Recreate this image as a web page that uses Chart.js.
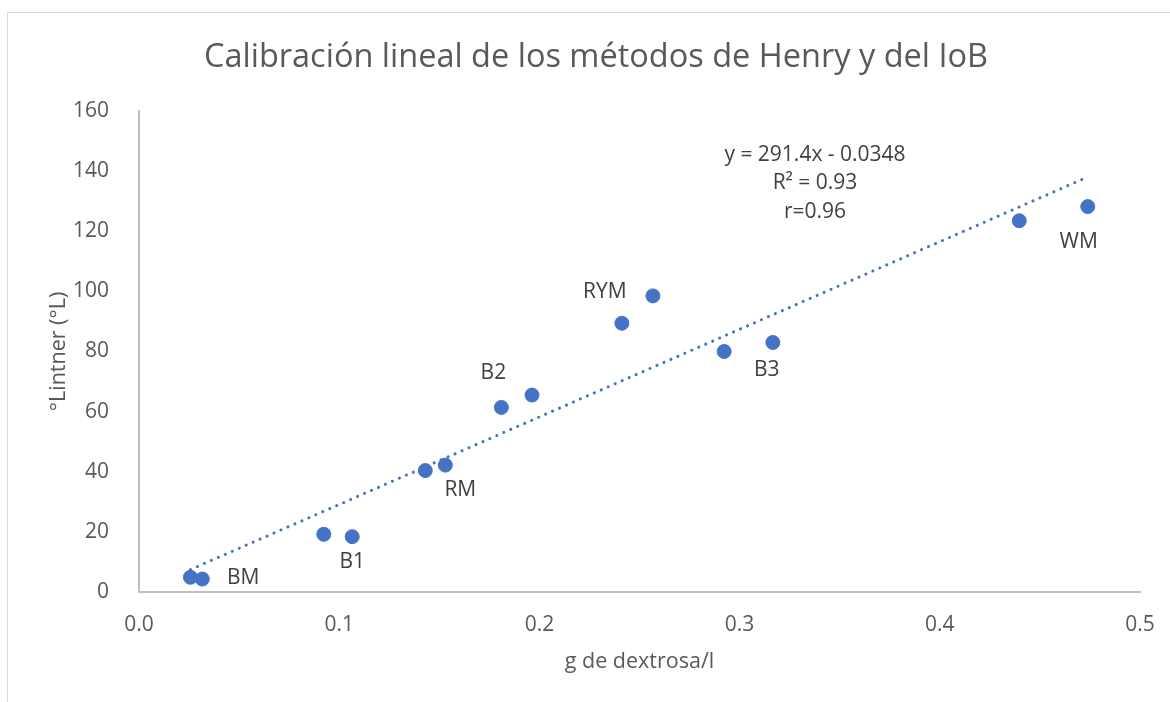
<!DOCTYPE html>
<html>
<head>
<meta charset="utf-8">
<script src="https://cdn.jsdelivr.net/npm/chart.js@4.4.1/dist/chart.umd.min.js"></script>
<style>
    html, body { margin: 0; padding: 0; background: #fff; }
    #wrap { width: 1170px; height: 702px; position: relative; }
</style>
</head>
<body>
<div id="wrap"><canvas id="calChart" width="1170" height="702"></canvas></div>
<script>
const xValues = [0.0257, 0.0316, 0.0923, 0.1065, 0.1430, 0.1530, 0.1810, 0.1963, 0.2412, 0.2567, 0.2923, 0.3166, 0.4397, 0.4739];
const yValues = [4.9, 4.3, 19.2, 18.4, 40.4, 42.2, 61.4, 65.5, 89.4, 98.5, 80.0, 83.0, 123.5, 128.2];
const sampleLabels = ["", "BM", "", "B1", "", "RM", "B2", "", "", "RYM", "", "B3", "", "WM"];
const slope = 291.4;
const intercept = -0.0348;
const equationLines = ["y = 291.4x - 0.0348", "R² = 0.93", "r=0.96"];
const xTicks = [0, 0.1, 0.2, 0.3, 0.4, 0.5];
const yTicks = [0, 20, 40, 60, 80, 100, 120, 140, 160];
const chartTitle = "Calibración lineal de los métodos de Henry y del IoB";

const FONT = "'Open Sans', 'Noto Sans', sans-serif";
const BLUE = "#4472C4";

const points = xValues.map((x, i) => ({ x: x, y: yValues[i] }));
const xMin = Math.min(...xValues);
const xMax = Math.max(...xValues);
const trend = [
    { x: xMin, y: slope * xMin + intercept },
    { x: xMax, y: slope * xMax + intercept },
];

// where each data label sits relative to its point (px)
const labelOffsets = {
    1: [41, -1],
    3: [0, 25],
    5: [15, 25],
    6: [-8, -34],
    9: [-48, -4],
    11: [-6, 28],
    13: [-9, 35],
};

const extras = {
    id: "extras",
    beforeDraw(chart) {
        const ctx = chart.ctx;
        ctx.save();
        ctx.strokeStyle = "#d9d9d9";
        ctx.lineWidth = 1;
        ctx.strokeRect(7.5, 12.5, 1300, 1000);
        ctx.fillStyle = "#595959";
        ctx.font = "32.5px " + FONT;
        ctx.textAlign = "center";
        ctx.textBaseline = "middle";
        ctx.fillText(chartTitle, 596, 58);
        ctx.restore();
    },
    afterDatasetsDraw(chart) {
        const ctx = chart.ctx;
        const xs = chart.scales.x;
        const ys = chart.scales.y;
        ctx.save();
        ctx.fillStyle = "#404040";
        ctx.font = "21px " + FONT;
        ctx.textBaseline = "middle";
        ctx.textAlign = "center";
        sampleLabels.forEach((lbl, i) => {
            if (!lbl) return;
            const off = labelOffsets[i];
            ctx.fillText(lbl, xs.getPixelForValue(xValues[i]) + off[0], ys.getPixelForValue(yValues[i]) + off[1]);
        });
        equationLines.forEach((t, i) => {
            ctx.fillText(t, 815, 155 + i * 28.5);
        });
        ctx.restore();
    },
};

new Chart(document.getElementById("calChart"), {
    type: "scatter",
    data: {
        datasets: [
            {
                data: points,
                backgroundColor: BLUE,
                borderColor: BLUE,
                pointRadius: 7,
                pointHoverRadius: 7,
                order: 1,
            },
            {
                type: "line",
                data: trend,
                borderColor: BLUE,
                borderWidth: 3,
                borderDash: [0.1, 7.5],
                borderCapStyle: "round",
                pointRadius: 0,
                fill: false,
                order: 2,
            },
        ],
    },
    options: {
        responsive: false,
        animation: false,
        layout: { padding: { left: 0, right: 30, top: 111, bottom: 0 } },
        plugins: {
            legend: { display: false },
            tooltip: { enabled: false },
            title: { display: false },
        },
        scales: {
            x: {
                type: "linear",
                min: 0,
                max: 0.5,
                afterBuildTicks(scale) {
                    scale.ticks = xTicks.map((v) => ({ value: v }));
                },
                afterFit(scale) {
                    scale.height = 110;
                },
                grid: { display: false },
                border: { display: true, color: "#bfbfbf", width: 2 },
                ticks: {
                    color: "#595959",
                    font: { family: FONT, size: 21 },
                    padding: 12,
                    maxRotation: 0,
                    callback: (v) => v.toFixed(1),
                },
                title: {
                    display: true,
                    text: "g de dextrosa/l",
                    color: "#595959",
                    font: { family: FONT, size: 21.5 },
                    padding: { top: 0, bottom: 27 },
                },
            },
            y: {
                min: 0,
                max: 160,
                afterBuildTicks(scale) {
                    scale.ticks = yTicks.map((v) => ({ value: v }));
                },
                afterFit(scale) {
                    scale.width = 139;
                },
                grid: { display: false },
                border: { display: true, color: "#bfbfbf", width: 2 },
                ticks: {
                    color: "#595959",
                    font: { family: FONT, size: 21 },
                    padding: 22,
                },
                title: {
                    display: true,
                    text: "°Lintner (°L)",
                    color: "#595959",
                    font: { family: FONT, size: 21.5 },
                    padding: { top: 46, bottom: 0 },
                },
            },
        },
    },
    plugins: [extras],
});
</script>
</body>
</html>
